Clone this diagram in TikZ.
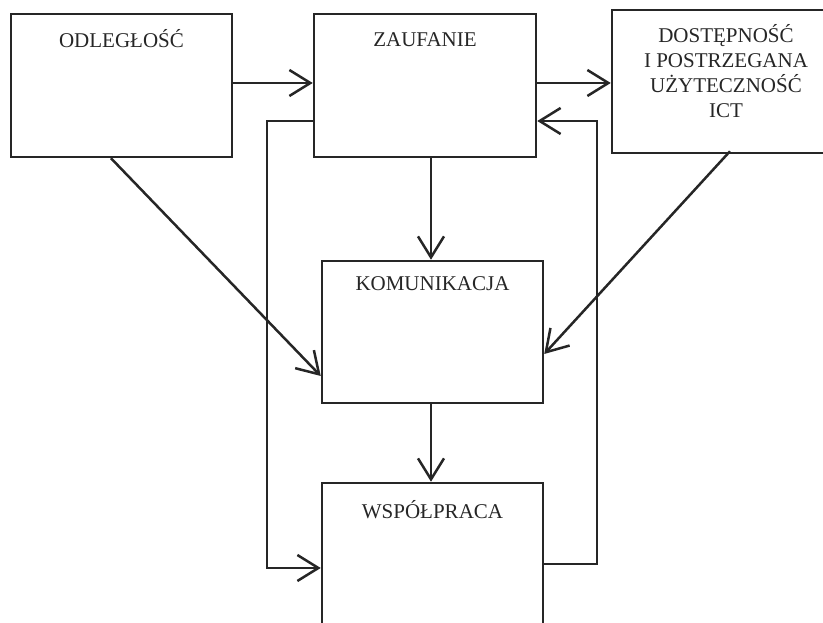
\documentclass[tikz,border=0pt]{standalone}
\usepackage{fontspec}
\setmainfont{Liberation Serif}
\usetikzlibrary{arrows.meta}
\begin{document}
\begin{tikzpicture}[x=1pt,y=1pt,
  conn/.style={draw=black!85, line width=2.5pt, line join=miter},
  arr/.style={conn, -{Straight Barb[length=21pt,width=26pt]}},
  box/.style={draw=black!85, line width=2.5pt, rectangle, inner sep=0pt},
  lbl/.style={font=\fontsize{21}{25}\selectfont, text=black!85, align=center, inner sep=0pt}]
\useasboundingbox (0,0) rectangle (823,623);
% boxes (image coords: y_tikz = 623 - y_img)
\node[box, minimum width=221pt, minimum height=143pt] (odl) at (121.5,537.5) {};
\node[box, minimum width=222pt, minimum height=143pt] (zau) at (425,537.5) {};
\node[box, minimum width=226pt, minimum height=143pt] (dost) at (725,541.5) {};
\node[box, minimum width=221pt, minimum height=142pt] (kom) at (432.5,291) {};
\node[box, minimum width=221pt, minimum height=167pt] (wsp) at (432.5,56.5) {};
% texts
\node[lbl] (todl) at (121.5,584) {ODLEGŁOŚĆ};
\node[lbl] (tzau) at (425,583) {ZAUFANIE};
\node[lbl, anchor=north] (tdost) at (726,599) {DOSTĘPNOŚĆ\\I POSTRZEGANA\\UŻYTECZNOŚĆ\\ICT};
\node[lbl] (tkom) at (432.5,339) {KOMUNIKACJA};
\node[lbl] (twsp) at (432.5,113) {WSPÓŁPRACA};
% helper coordinates
\coordinate (cL) at (267,502);
\coordinate (cR) at (597,502);
% connectors
\draw[arr] ([yshift=2.5pt]odl.east) -- ([yshift=2.5pt]zau.west);
\draw[arr] ([yshift=2.5pt]zau.east) -- ([yshift=2.5pt]zau.east -| dost.west);
\draw[arr] ([xshift=6pt]zau.south) -- ([xshift=6pt]zau.south |- kom.north);
\draw[arr] ([xshift=-1.5pt]kom.south) -- ([xshift=-1.5pt]kom.south |- wsp.north);
\draw[arr] ([xshift=-10.5pt]odl.south) -- ([yshift=-44pt]kom.west);
\draw[arr] ([xshift=5pt,yshift=3pt]dost.south) -- ([yshift=-22pt]kom.east);
\draw[arr] (zau.west |- cL) -- (cL) -- (cL |- 0,55) -- (wsp.west |- 0,55);
\draw[arr] (wsp.east |- 0,59) -- (cR |- 0,59) -- (cR) -- (zau.east |- cR);
\end{tikzpicture}
\end{document}
